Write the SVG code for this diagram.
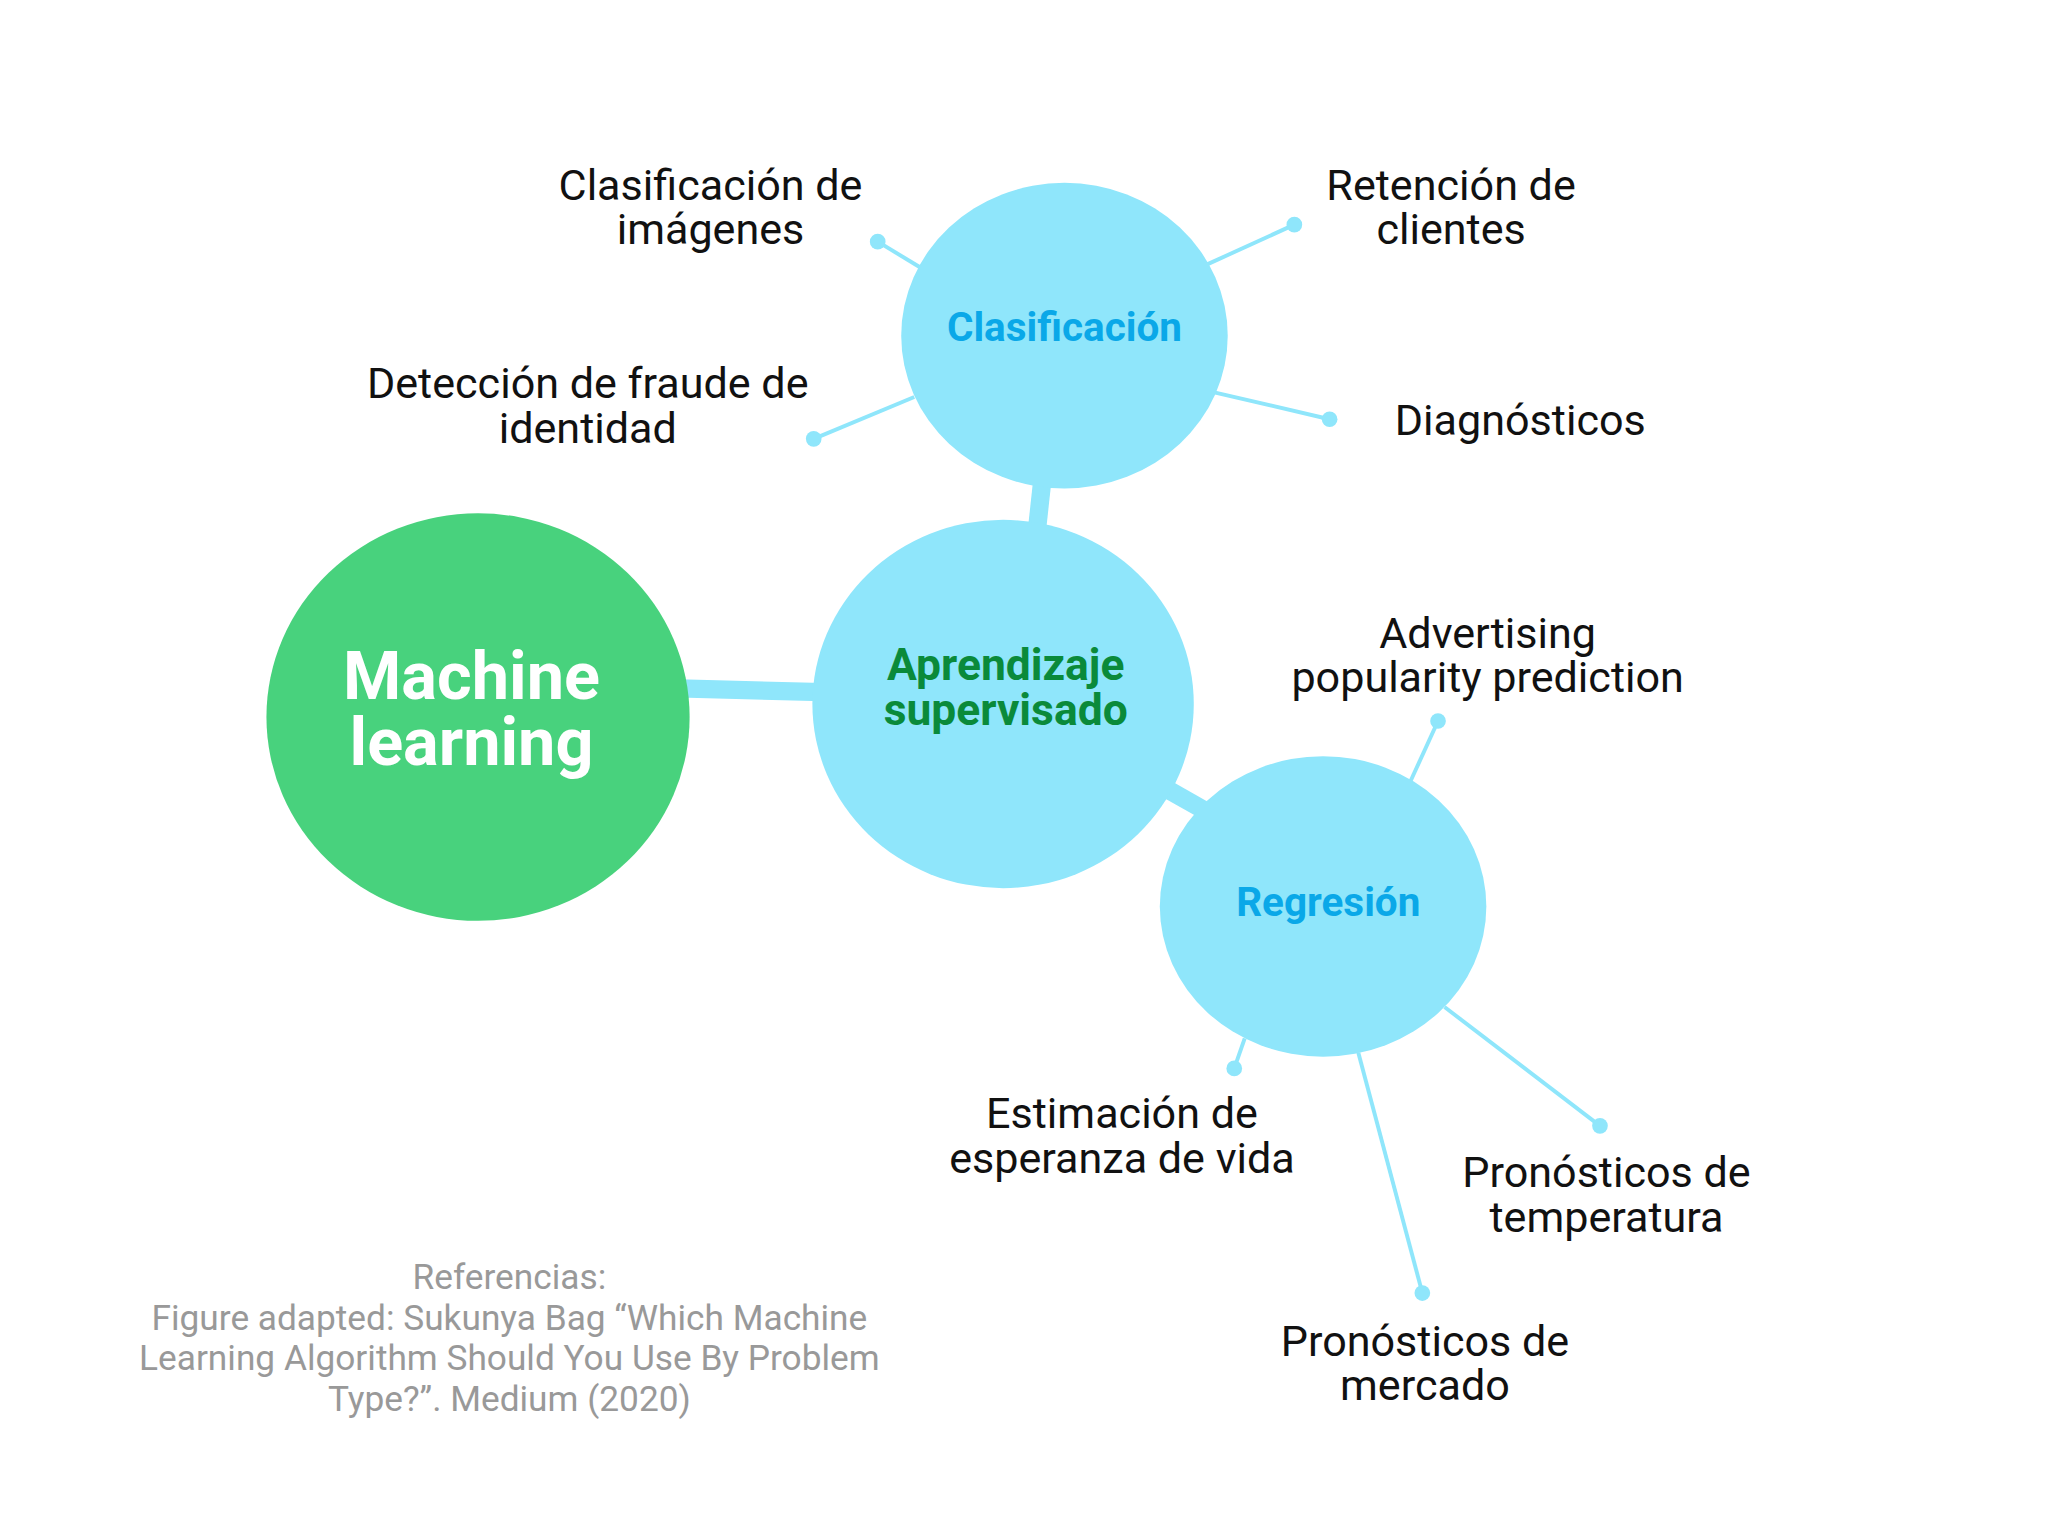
<svg xmlns="http://www.w3.org/2000/svg" width="2048" height="1536" viewBox="0 0 2048 1536">
<style>
.lbl{font-family:Roboto,"Liberation Sans",sans-serif;font-size:33px;fill:#111;text-anchor:middle}
.thin{stroke:#8fe6fb;stroke-width:3;fill:none}
.thick{stroke:#8fe6fb;stroke-width:14;fill:none}
.dot{fill:#8fe6fb}
.bub{fill:#8fe6fb}
.ref{font-family:Roboto,"Liberation Sans",sans-serif;font-size:27px;fill:#999;text-anchor:middle}
</style>
<rect width="2048" height="1536" fill="#fff"/>
<g transform="scale(1.3061)">
<g id="connectors">
<line class="thick" x1="520" y1="527" x2="630" y2="530"/>
<line class="thick" x1="794" y1="405" x2="798" y2="368"/>
<line class="thick" x1="895" y1="605" x2="925" y2="622"/>
<line class="thin" x1="705" y1="205" x2="672" y2="185"/><circle class="dot" cx="672" cy="185" r="6"/>
<line class="thin" x1="923" y1="203" x2="991" y2="172"/><circle class="dot" cx="991" cy="172" r="6"/>
<line class="thin" x1="928" y1="300" x2="1018" y2="321"/><circle class="dot" cx="1018" cy="321" r="6"/>
<line class="thin" x1="700" y1="304" x2="623" y2="336"/><circle class="dot" cx="623" cy="336" r="6"/>
<line class="thin" x1="1080" y1="598" x2="1101" y2="552"/><circle class="dot" cx="1101" cy="552" r="6"/>
<line class="thin" x1="953" y1="795" x2="945" y2="818"/><circle class="dot" cx="945" cy="818" r="6"/>
<line class="thin" x1="1040" y1="806" x2="1089" y2="990"/><circle class="dot" cx="1089" cy="990" r="6"/>
<line class="thin" x1="1106" y1="771" x2="1225" y2="862"/><circle class="dot" cx="1225" cy="862" r="6"/>
</g>
<g id="ml"><ellipse cx="366" cy="549" rx="162" ry="156" fill="#48d27d"/>
<text x="361" y="535" font-family="Roboto,'Liberation Sans',sans-serif" font-size="51" font-weight="bold" fill="#fff" text-anchor="middle">Machine</text>
<text x="361" y="586" font-family="Roboto,'Liberation Sans',sans-serif" font-size="51" font-weight="bold" fill="#fff" text-anchor="middle">learning</text></g>
<g id="aprendizaje"><ellipse class="bub" cx="768" cy="539" rx="146" ry="141"/>
<text x="770" y="521" font-family="Roboto,'Liberation Sans',sans-serif" font-size="34" font-weight="bold" fill="#0a8a3a" text-anchor="middle">Aprendizaje</text>
<text x="770" y="555" font-family="Roboto,'Liberation Sans',sans-serif" font-size="34" font-weight="bold" fill="#0a8a3a" text-anchor="middle">supervisado</text></g>
<g id="clasificacion"><ellipse class="bub" cx="815" cy="257" rx="125" ry="117"/>
<text x="815" y="261" font-family="Roboto,'Liberation Sans',sans-serif" font-size="31" font-weight="bold" fill="#0aa8e8" text-anchor="middle">Clasificación</text></g>
<g id="regresion"><ellipse class="bub" cx="1013" cy="694" rx="125" ry="115"/>
<text x="1017" y="701" font-family="Roboto,'Liberation Sans',sans-serif" font-size="31" font-weight="bold" fill="#0aa8e8" text-anchor="middle">Regresión</text></g>
<g id="l1"><text class="lbl" x="544" y="153">Clasificación de</text><text class="lbl" x="544" y="187">imágenes</text></g>
<g id="l2"><text class="lbl" x="1111" y="153">Retención de</text><text class="lbl" x="1111" y="187">clientes</text></g>
<g id="l3"><text class="lbl" x="1164" y="333">Diagnósticos</text></g>
<g id="l4"><text class="lbl" x="450" y="305">Detección de fraude de</text><text class="lbl" x="450" y="339">identidad</text></g>
<g id="l5"><text class="lbl" x="1139" y="496">Advertising</text><text class="lbl" x="1139" y="530">popularity prediction</text></g>
<g id="l6"><text class="lbl" x="859" y="864">Estimación de</text><text class="lbl" x="859" y="898">esperanza de vida</text></g>
<g id="l7"><text class="lbl" x="1230" y="909">Pronósticos de</text><text class="lbl" x="1230" y="943">temperatura</text></g>
<g id="l8"><text class="lbl" x="1091" y="1038">Pronósticos de</text><text class="lbl" x="1091" y="1072">mercado</text></g>
<g id="ref"><text class="ref" x="390" y="987">Referencias:</text>
<text class="ref" x="390" y="1018">Figure adapted: Sukunya Bag “Which Machine</text>
<text class="ref" x="390" y="1049">Learning Algorithm Should You Use By Problem</text>
<text class="ref" x="390" y="1080">Type?”. Medium (2020)</text></g>
</g>
</svg>
